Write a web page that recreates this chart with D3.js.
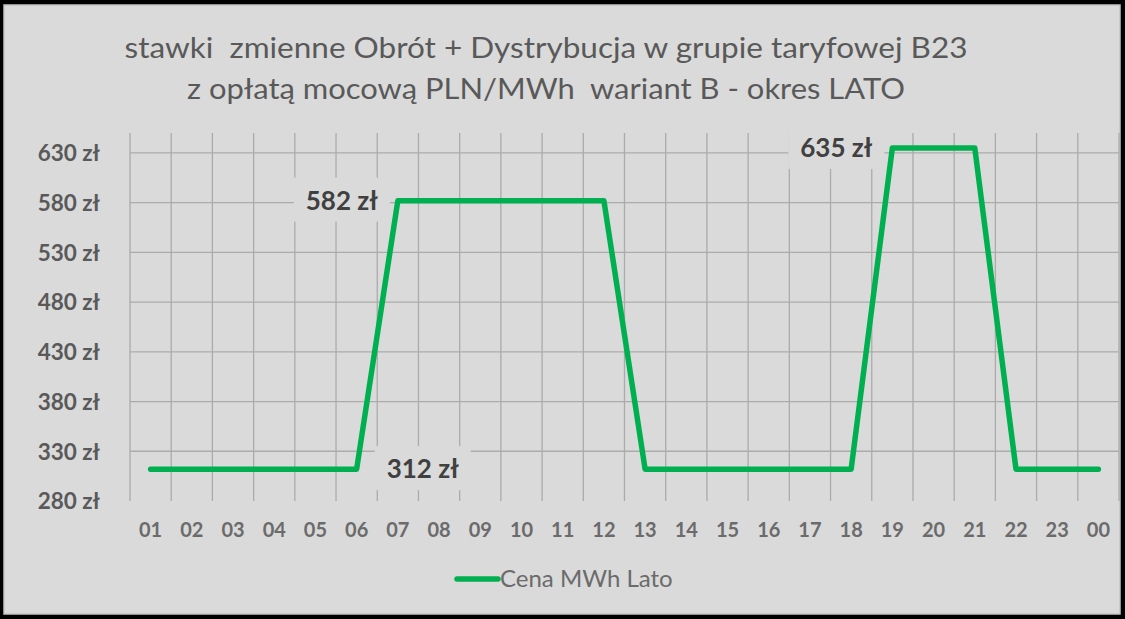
<!DOCTYPE html>
<html>
<head>
<meta charset="utf-8">
<script src="https://cdn.jsdelivr.net/npm/d3@7"></script>
<style>
  html, body { margin: 0; padding: 0; background: #000; }
  svg { display: block; }
</style>
</head>
<body>
<svg id="chart" width="1125" height="619"></svg>
<script>
const titleLines = [
  "stawki  zmienne Obrót + Dystrybucja w grupie taryfowej B23",
  "z opłatą mocową PLN/MWh  wariant B - okres LATO"
];
const hours = ["01","02","03","04","05","06","07","08","09","10","11","12",
               "13","14","15","16","17","18","19","20","21","22","23","00"];
const prices = [312,312,312,312,312,312,582,582,582,582,582,582,
                312,312,312,312,312,312,635,635,635,312,312,312];
const yTicks = [280,330,380,430,480,530,580,630];
const seriesName = "Cena MWh Lato";
const labels = [
  {hour: "07", value: 582, side: "left"},
  {hour: "19", value: 635, side: "left"},
  {hour: "06", value: 312, side: "right"}
];

const svg = d3.select("#chart");
const W = 1125, H = 619;
const bg = "#dadada";
const green = "#00b050";
const gridColor = "#ababab";
const font = "Lato, 'Open Sans', sans-serif";

// frame
svg.append("rect").attr("x",0).attr("y",0).attr("width",W).attr("height",H).attr("fill","#000");
svg.append("rect").attr("x",4).attr("y",5).attr("width",1116).attr("height",609)
   .attr("fill",bg).attr("stroke","#c4c4c4").attr("stroke-width",1.5);

const plot = {left:130, right:1119, top:133, bottom:501};

const x = d3.scaleBand().domain(hours).range([plot.left, plot.right]).padding(0);
const y = d3.scaleLinear().domain([280, 650]).range([plot.bottom, plot.top]);
const cx = h => x(h) + x.bandwidth()/2;

// title
const titleWidths = [843, 718];
const titleBase = [58, 99];
titleLines.forEach((t,i) => {
  svg.append("text").attr("text-anchor","middle")
    .attr("x",546).attr("y",titleBase[i])
    .attr("font-family",font).attr("font-size",29)
    .attr("fill","#595959")
    .attr("xml:space","preserve")
    .attr("textLength",titleWidths[i]).attr("lengthAdjust","spacingAndGlyphs")
    .text(t);
});

// horizontal gridlines
svg.append("g").selectAll("line").data(yTicks.filter(v => v > 280)).join("line")
  .attr("x1",plot.left).attr("x2",plot.right)
  .attr("y1",d => y(d)).attr("y2",d => y(d))
  .attr("stroke",gridColor).attr("stroke-width",1.3);

// vertical gridlines (between categories)
const bounds = hours.map(h => x(h)).concat([plot.right]);
svg.append("g").selectAll("line").data(bounds).join("line")
  .attr("x1",d => d).attr("x2",d => d)
  .attr("y1",plot.top).attr("y2",plot.bottom)
  .attr("stroke",gridColor).attr("stroke-width",1.3);

// y axis
const yAxis = d3.axisLeft(y).tickValues(yTicks).tickSize(0).tickPadding(0)
  .tickFormat(d => d + " zł");
const yg = svg.append("g").attr("transform",`translate(${plot.left - 30},0)`).call(yAxis);
yg.select(".domain").remove();
yg.selectAll("text").attr("font-family",font)
  .attr("font-size",22.5).attr("font-weight","bold").attr("fill","#595959")
  .attr("dy","0.35em");

// x axis
const xAxis = d3.axisBottom(x).tickSize(0).tickPadding(0);
const xg = svg.append("g").attr("transform",`translate(0,${plot.bottom + 22})`).call(xAxis);
xg.select(".domain").remove();
xg.selectAll("text").attr("font-family",font)
  .attr("font-size",20).attr("font-weight","bold").attr("fill","#6b6b6b")
  .attr("dy","0.71em");

// line
const line = d3.line().x((d,i) => cx(hours[i])).y(d => y(d));
svg.append("path").datum(prices).attr("d",line)
  .attr("fill","none").attr("stroke",green).attr("stroke-width",5.5)
  .attr("stroke-linejoin","round").attr("stroke-linecap","round");

// data labels with background boxes
const lg = svg.append("g");
labels.forEach(l => {
  const px = cx(l.hour), py = y(l.value);
  const g = lg.append("g");
  const t = g.append("text")
    .attr("font-family",font).attr("font-size",26)
    .attr("font-weight","bold").attr("fill","#404040")
    .attr("dy","0.35em").text(l.value + " zł");
  const w = t.node().getComputedTextLength();
  const tx = l.side === "left" ? px - 20 - w : px + 30;
  t.attr("x",tx).attr("y",py);
  g.insert("rect","text").attr("x",tx - 12).attr("y",py - 23)
    .attr("width",w + 24).attr("height",44).attr("fill",bg);
});

// legend
const legY = 579;
svg.append("line").attr("x1",457).attr("x2",498).attr("y1",legY).attr("y2",legY)
  .attr("stroke",green).attr("stroke-width",5.5).attr("stroke-linecap","round");
svg.append("text").attr("x",500).attr("y",legY).attr("dy","0.35em")
  .attr("font-family",font).attr("font-size",24)
  .attr("fill","#6b6b6b").text(seriesName);
</script>
</body>
</html>
